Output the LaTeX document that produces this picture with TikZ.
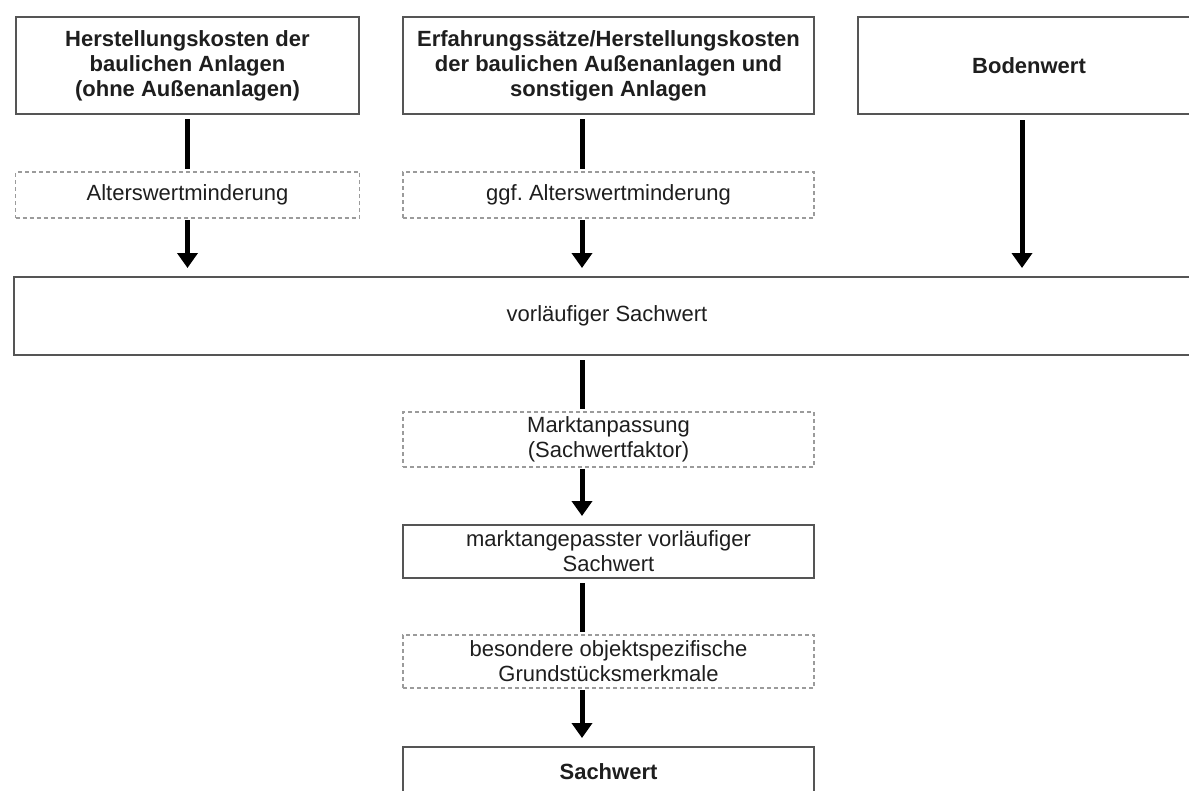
\documentclass[tikz,border=0pt]{standalone}
\usepackage{fontspec}
\setmainfont{Liberation Sans}
\usepackage{tikz}
\usetikzlibrary{arrows.meta,positioning}
\definecolor{FrameGrey}{RGB}{85,85,85}
\definecolor{DashGrey}{RGB}{155,155,155}
\definecolor{InkGrey}{RGB}{30,30,30}
\frenchspacing

\begin{document}
\begin{tikzpicture}[
  x=1pt, y=-1pt,
  font=\fontsize{22}{25}\selectfont,
  node distance=58pt and 44pt,
  box/.style={draw=FrameGrey, line width=1.5pt, align=center, text=InkGrey,
    inner sep=0pt, outer sep=0pt},
  head/.style={box, font=\fontsize{22}{25}\selectfont\bfseries, minimum height=97pt},
  adj/.style={box, draw=DashGrey, dash pattern=on 4pt off 3pt, line width=1.3pt},
  link/.style={line width=5pt, shorten <=5pt, shorten >=3pt},
  arr/.style={line width=5pt, -{Triangle[length=15pt,width=20pt]},
    shorten <=2pt, shorten >=9pt},
]
\useasboundingbox (0,0) rectangle (1189,790);
\clip (0,0) rectangle (1189,790);

\node[head, minimum width=343pt] (hk1) at (187.5,65.5)
  {Herstellungskosten der\\baulichen Anlagen\\(ohne Außenanlagen)};
\node[head, minimum width=411pt, right=of hk1] (hk2)
  {Erfahrungssätze/Herstellungskosten\\der baulichen Außenanlagen und\\sonstigen Anlagen};
\node[head, minimum width=342pt, right=of hk2] (bw) {Bodenwert};

\node[adj, minimum width=344pt, minimum height=46pt, below=of hk1] (aw1) {Alterswertminderung};
\node[adj, minimum width=411pt, minimum height=46pt, below=of hk2] (aw2) {ggf. Alterswertminderung};

\node[box, minimum width=1186pt, minimum height=78pt] (vs) at (607,316) {vorläufiger Sachwert};

\node[adj, minimum width=411pt, minimum height=55pt] (ma) at (608.5,439.5)
  {Marktanpassung\\(Sachwertfaktor)};
\node[box, minimum width=411pt, minimum height=53pt] (mvs) at (608.5,551.5)
  {marktangepasster vorläufiger\\Sachwert};
\node[adj, minimum width=411pt, minimum height=53pt] (bom) at (608.5,661.5)
  {besondere objektspezifische\\Grundstücksmerkmale};
\node[head, minimum width=411pt, minimum height=50pt] (sw) at (608.5,772) {Sachwert};

\draw[link] (hk1) -- (aw1);
\draw[arr] (aw1.south) -- (aw1.south |- vs.north);
\draw[link] ([xshift=-26.5pt]hk2.south) -- ([xshift=-26.5pt]aw2.north);
\draw[arr] ([xshift=-26.5pt]aw2.south) -- ([xshift=-26.5pt]aw2.south |- vs.north);
\draw[arr, shorten <=6pt] ([xshift=-7pt]bw.south) -- ([xshift=-7pt]bw.south |- vs.north);

\draw[link] ([xshift=-26.5pt]ma.north |- vs.south) -- ([xshift=-26.5pt]ma.north);
\draw[arr] ([xshift=-26.5pt]ma.south) -- ([xshift=-26.5pt]mvs.north);
\draw[link] ([xshift=-26.5pt]mvs.south) -- ([xshift=-26.5pt]bom.north);
\draw[arr] ([xshift=-26.5pt]bom.south) -- ([xshift=-26.5pt]sw.north);
\end{tikzpicture}
\end{document}
